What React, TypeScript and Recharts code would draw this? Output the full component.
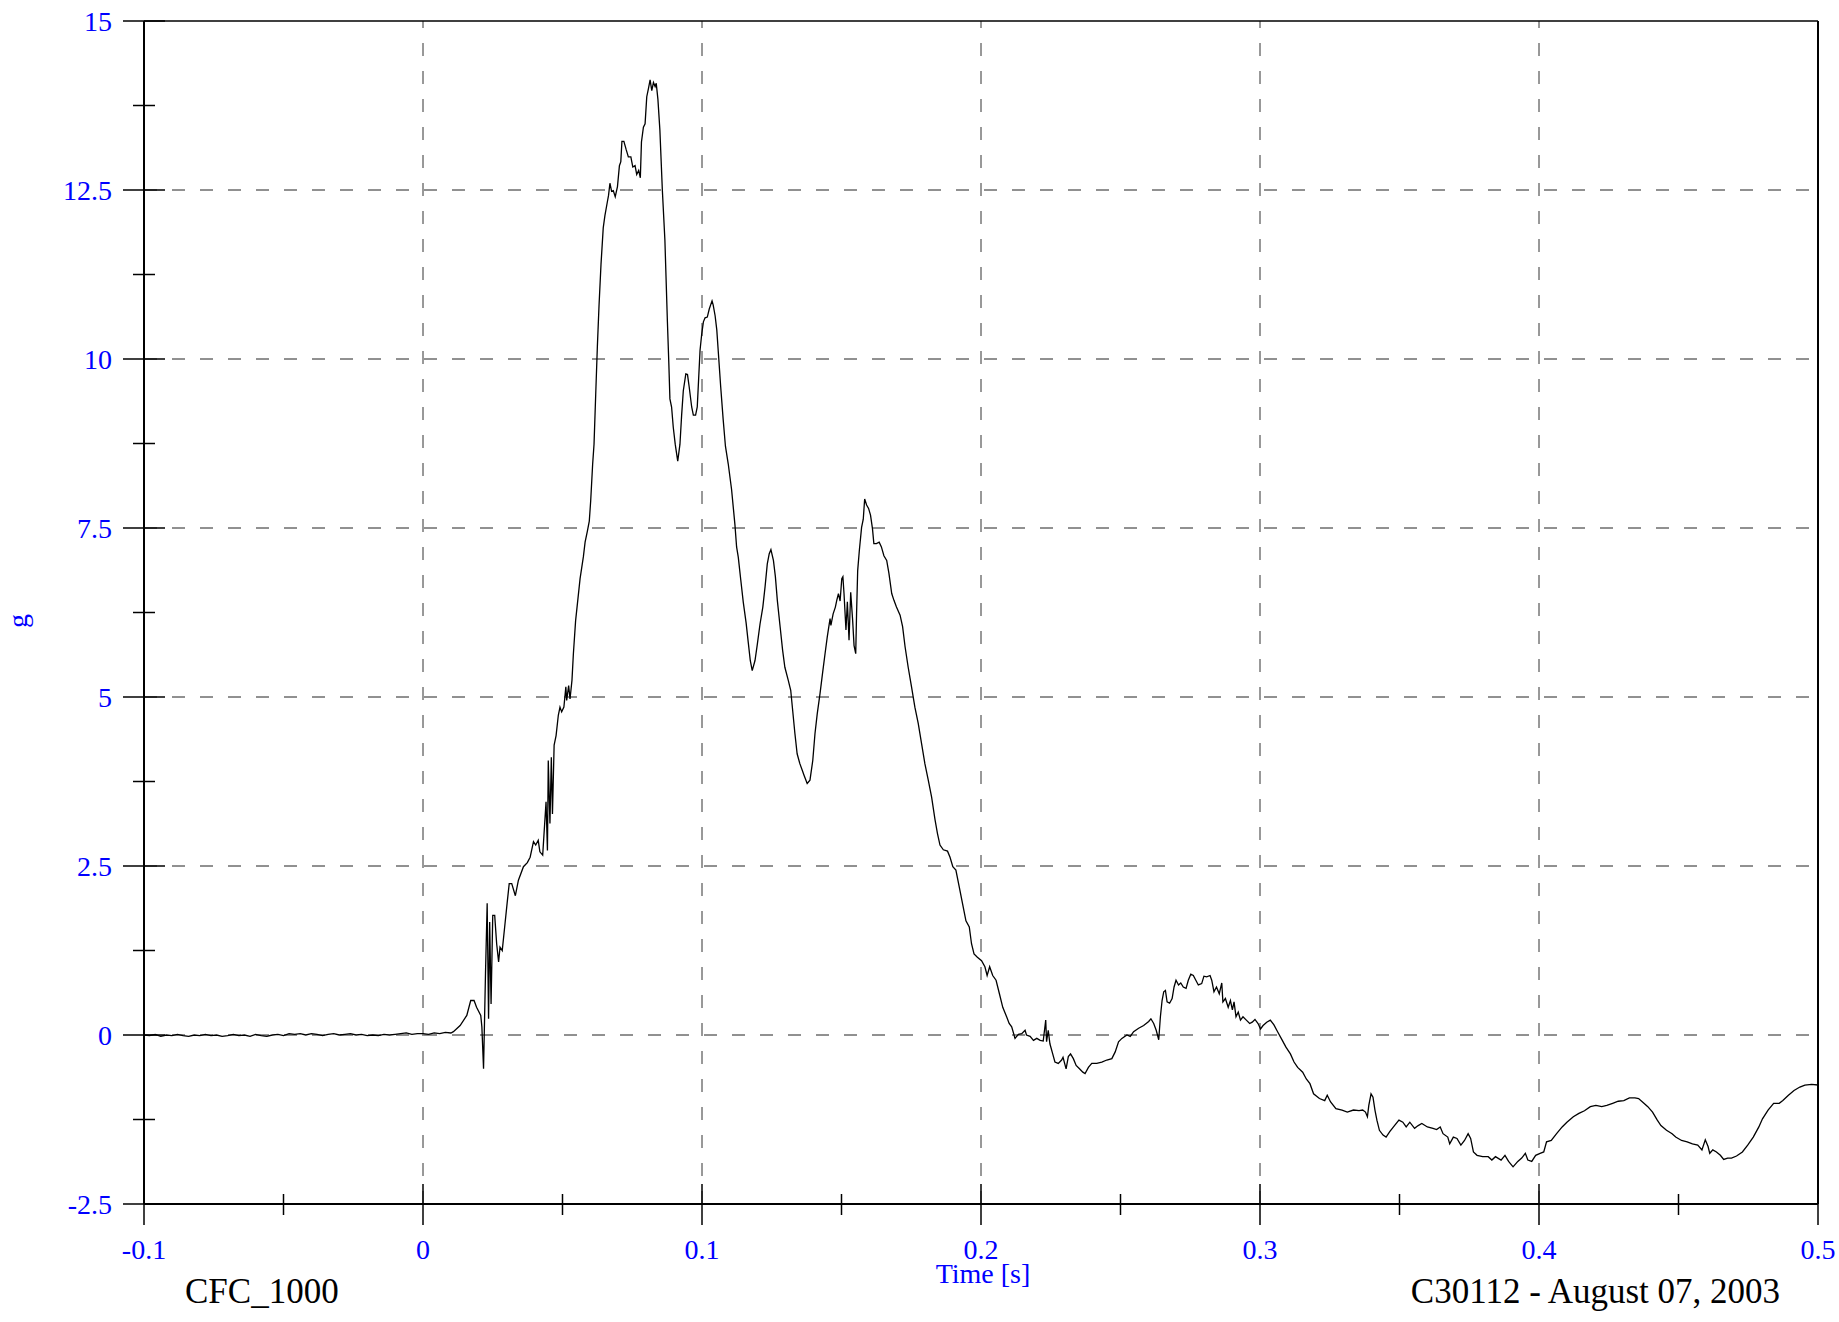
import { Line, LineChart, ReferenceLine, XAxis, YAxis } from 'recharts';

type Pt = [number, number];

// time [s], acceleration [g]
const quietPhase: Pt[] = [
  [-0.1, 0.0], [-0.098, -0.01], [-0.096, 0.01], [-0.094, -0.02], [-0.092, 0.0], [-0.09, -0.01],
  [-0.088, 0.01], [-0.086, -0.01], [-0.084, -0.02], [-0.082, 0.0], [-0.08, -0.01], [-0.078, 0.01],
  [-0.076, -0.01], [-0.074, 0.0], [-0.072, -0.02], [-0.07, -0.01], [-0.068, 0.01], [-0.066, -0.01],
  [-0.064, 0.0], [-0.062, -0.02], [-0.06, 0.01], [-0.058, -0.01], [-0.056, -0.02], [-0.054, 0.0],
  [-0.052, 0.01], [-0.05, -0.01], [-0.048, 0.02], [-0.046, 0.01], [-0.044, 0.02], [-0.042, 0.0],
  [-0.04, 0.02], [-0.038, 0.01], [-0.036, -0.01], [-0.034, 0.01], [-0.032, 0.02], [-0.03, 0.0],
  [-0.028, 0.01], [-0.026, 0.02], [-0.024, 0.0], [-0.022, 0.01], [-0.02, -0.01], [-0.018, 0.0],
  [-0.016, -0.01], [-0.014, 0.01], [-0.012, 0.0], [-0.01, 0.01], [-0.008, 0.02], [-0.006, 0.03],
  [-0.004, 0.01], [-0.002, 0.02], [0.0, 0.02], [0.002, 0.01], [0.004, 0.03], [0.006, 0.02],
  [0.008, 0.04], [0.01, 0.03], [0.0109, 0.05],
];

const impactRise: Pt[] = [
  [0.0133, 0.14], [0.0157, 0.29], [0.0171, 0.51], [0.0183, 0.51], [0.0192, 0.41], [0.0207, 0.29],
  [0.0211, 0.12], [0.0217, -0.5], [0.0224, 0.91], [0.023, 1.95], [0.0235, 0.24], [0.0239, 1.67],
  [0.0244, 0.46], [0.025, 1.77], [0.0257, 1.77], [0.0264, 1.35], [0.0271, 1.08], [0.0276, 1.3],
  [0.0284, 1.25], [0.0294, 1.65], [0.0302, 1.97], [0.0309, 2.24], [0.0318, 2.24], [0.0331, 2.06],
  [0.0342, 2.29], [0.036, 2.49], [0.0374, 2.55], [0.0384, 2.63], [0.0396, 2.86], [0.0404, 2.81],
  [0.0413, 2.88], [0.0419, 2.71], [0.0429, 2.66], [0.0441, 3.45], [0.0446, 2.73], [0.0449, 4.06],
  [0.0455, 3.13], [0.046, 4.11], [0.0464, 3.27], [0.047, 4.29], [0.0477, 4.43], [0.0485, 4.73],
  [0.0491, 4.85], [0.0497, 4.78], [0.0505, 4.85], [0.0512, 5.15], [0.0515, 4.95], [0.0522, 5.17],
  [0.0527, 4.97], [0.0534, 5.25], [0.0539, 5.64], [0.0547, 6.13],
];

const mainPeak: Pt[] = [
  [0.0563, 6.75], [0.0575, 7.08], [0.0581, 7.29], [0.0589, 7.45], [0.0596, 7.6], [0.0601, 7.9],
  [0.0608, 8.44], [0.0613, 8.74], [0.0619, 9.47], [0.0625, 10.19], [0.0631, 10.8], [0.0638, 11.4],
  [0.0646, 11.94], [0.0652, 12.12], [0.0661, 12.33], [0.0665, 12.42], [0.067, 12.6], [0.0676, 12.48],
  [0.0682, 12.49], [0.0689, 12.4], [0.0697, 12.55], [0.0704, 12.86], [0.0709, 12.92], [0.0713, 13.22],
  [0.072, 13.22], [0.0728, 13.1], [0.0736, 12.99], [0.0745, 12.99], [0.0752, 12.84], [0.076, 12.86],
  [0.0766, 12.73], [0.0773, 12.79], [0.0779, 12.68], [0.0783, 13.21], [0.079, 13.43], [0.0796, 13.48],
  [0.0802, 13.88], [0.0808, 14.0], [0.0814, 14.13], [0.082, 13.97], [0.0826, 14.09], [0.0832, 14.03],
  [0.0836, 14.08], [0.0842, 13.84], [0.0849, 13.39], [0.0858, 12.49], [0.0867, 11.76], [0.0876, 10.55],
  [0.0881, 9.95], [0.0885, 9.41], [0.0891, 9.29], [0.0897, 8.99], [0.0904, 8.74], [0.0913, 8.49],
  [0.0921, 8.74], [0.0927, 9.17], [0.0933, 9.53], [0.0942, 9.78], [0.0948, 9.77], [0.0954, 9.59],
  [0.0963, 9.29], [0.0969, 9.17], [0.0977, 9.17], [0.0983, 9.29], [0.0988, 9.71], [0.0993, 10.13],
  [0.0999, 10.37], [0.1005, 10.55], [0.1011, 10.61], [0.1019, 10.62], [0.1026, 10.74], [0.1036, 10.86],
  [0.104, 10.8], [0.1047, 10.64], [0.1053, 10.43], [0.1059, 10.07], [0.1067, 9.59], [0.1076, 9.1],
  [0.1084, 8.71], [0.1094, 8.45], [0.1106, 8.07], [0.1118, 7.55], [0.1124, 7.22], [0.113, 7.07],
  [0.1139, 6.73], [0.1148, 6.4], [0.1158, 6.1], [0.1166, 5.8], [0.1173, 5.54], [0.118, 5.39],
  [0.119, 5.54], [0.1198, 5.77], [0.1208, 6.08],
];

const secondaryPeaks: Pt[] = [
  [0.1218, 6.33], [0.1226, 6.63], [0.1234, 6.97], [0.1241, 7.12], [0.1247, 7.18], [0.1256, 7.02],
  [0.1263, 6.78], [0.127, 6.43], [0.128, 6.04], [0.1289, 5.69], [0.1297, 5.44], [0.1309, 5.25],
  [0.1318, 5.1], [0.1325, 4.8], [0.1333, 4.46], [0.1341, 4.16], [0.1351, 4.01], [0.1359, 3.92],
  [0.1366, 3.84], [0.1377, 3.72], [0.1387, 3.77], [0.1397, 4.06], [0.1405, 4.46], [0.1413, 4.75],
  [0.1423, 5.05], [0.1432, 5.35], [0.1441, 5.64], [0.1449, 5.89], [0.1459, 6.16], [0.1462, 6.06],
  [0.147, 6.23], [0.1478, 6.33], [0.1483, 6.43], [0.1489, 6.53], [0.1495, 6.42], [0.1501, 6.75],
  [0.1505, 6.78], [0.1509, 6.53], [0.1516, 5.99], [0.1521, 6.41], [0.1527, 5.84], [0.1533, 6.55],
  [0.154, 6.13], [0.1545, 5.76], [0.1551, 5.64], [0.1554, 6.23], [0.1558, 6.87], [0.1564, 7.17],
  [0.1572, 7.51], [0.1578, 7.63], [0.1583, 7.93], [0.159, 7.84], [0.1597, 7.79], [0.1604, 7.69],
  [0.1611, 7.49], [0.1616, 7.27], [0.1625, 7.27], [0.1635, 7.29], [0.1643, 7.22], [0.1652, 7.09],
  [0.1662, 7.02], [0.167, 6.83], [0.168, 6.53], [0.1688, 6.43], [0.1697, 6.33], [0.171, 6.21],
  [0.1719, 6.04], [0.1728, 5.74], [0.1739, 5.44], [0.1751, 5.15], [0.1763, 4.85], [0.1775, 4.61],
  [0.1787, 4.31], [0.1799, 4.01], [0.1811, 3.77], [0.1823, 3.52], [0.1835, 3.19],
];

const rebound: Pt[] = [
  [0.1844, 2.98], [0.1853, 2.81], [0.1865, 2.74], [0.188, 2.72], [0.1889, 2.63], [0.1899, 2.49],
  [0.191, 2.44], [0.1922, 2.19], [0.1934, 1.94], [0.1946, 1.69], [0.1958, 1.6], [0.1966, 1.35],
  [0.1975, 1.2], [0.1987, 1.15], [0.2002, 1.1], [0.2014, 1.01], [0.2022, 0.88], [0.2031, 1.01],
  [0.2042, 0.88], [0.2054, 0.81], [0.2066, 0.61], [0.2078, 0.41], [0.209, 0.29], [0.2101, 0.17],
  [0.211, 0.12], [0.2122, -0.05], [0.2134, 0.01], [0.2146, 0.02], [0.2158, 0.07], [0.2163, 0.0],
  [0.2176, -0.02], [0.2188, -0.08], [0.22, -0.05], [0.2212, -0.08], [0.2223, -0.09], [0.2232, 0.22],
  [0.2235, -0.1], [0.2241, 0.07], [0.2247, -0.13], [0.2257, -0.28], [0.2265, -0.4], [0.2277, -0.42],
  [0.2289, -0.37], [0.2294, -0.33], [0.2305, -0.5], [0.2313, -0.32], [0.2321, -0.28], [0.2331, -0.35],
  [0.2341, -0.45], [0.2353, -0.5], [0.2365, -0.55], [0.2373, -0.57], [0.2385, -0.48], [0.2397, -0.42],
  [0.2415, -0.42], [0.2433, -0.4], [0.2451, -0.37], [0.2469, -0.35], [0.2481, -0.25], [0.2493, -0.1],
  [0.2505, -0.05], [0.2523, 0.0], [0.2535, -0.02], [0.2547, 0.05], [0.2565, 0.1], [0.2583, 0.14],
  [0.2601, 0.2], [0.2609, 0.24], [0.2619, 0.17], [0.2628, 0.07], [0.2637, -0.07], [0.2643, 0.27],
  [0.2649, 0.51], [0.2655, 0.64], [0.2661, 0.66], [0.2667, 0.49], [0.2676, 0.47], [0.2685, 0.54],
  [0.2692, 0.71], [0.2699, 0.81], [0.2708, 0.74], [0.2716, 0.77], [0.2725, 0.71], [0.2735, 0.69],
  [0.2743, 0.81], [0.2752, 0.9], [0.2761, 0.88], [0.277, 0.81], [0.2779, 0.74], [0.2791, 0.76],
  [0.2799, 0.87], [0.2809, 0.86], [0.2821, 0.88], [0.2827, 0.81], [0.2835, 0.64], [0.2844, 0.71],
  [0.2854, 0.61], [0.2863, 0.77], [0.2867, 0.49], [0.2876, 0.54], [0.2886, 0.41], [0.2894, 0.51],
  [0.2901, 0.37], [0.2907, 0.49], [0.2914, 0.27], [0.2922, 0.34], [0.293, 0.22], [0.2939, 0.27],
  [0.2951, 0.22], [0.2963, 0.17], [0.2972, 0.19], [0.2982, 0.23], [0.2993, 0.17], [0.3002, 0.09],
  [0.3011, 0.14], [0.3024, 0.19], [0.3037, 0.22], [0.305, 0.15], [0.3064, 0.04],
];

const tail: Pt[] = [
  [0.308, -0.08], [0.3093, -0.18], [0.3109, -0.28], [0.3122, -0.4], [0.3135, -0.48], [0.3153, -0.55],
  [0.3166, -0.65], [0.3179, -0.72], [0.3192, -0.87], [0.3213, -0.94], [0.3232, -0.97], [0.3241, -0.89],
  [0.3253, -0.99], [0.3272, -1.09], [0.3294, -1.11], [0.3313, -1.14], [0.3335, -1.11], [0.3355, -1.12],
  [0.3368, -1.11], [0.3378, -1.14], [0.3385, -1.21], [0.339, -1.04], [0.3398, -0.87], [0.3405, -0.92],
  [0.3412, -1.11], [0.3419, -1.26], [0.3428, -1.41], [0.3441, -1.48], [0.3452, -1.51], [0.3465, -1.43],
  [0.3482, -1.34], [0.3498, -1.26], [0.3512, -1.29], [0.3524, -1.36], [0.3537, -1.29], [0.3554, -1.38],
  [0.3567, -1.34], [0.358, -1.31], [0.36, -1.36], [0.362, -1.38], [0.3633, -1.4], [0.3646, -1.36],
  [0.3656, -1.46], [0.3673, -1.51], [0.368, -1.61], [0.3693, -1.51], [0.3706, -1.53], [0.372, -1.63],
  [0.3733, -1.56], [0.3746, -1.46], [0.3755, -1.53], [0.3765, -1.73], [0.3778, -1.78], [0.3798, -1.8],
  [0.3818, -1.8], [0.3831, -1.85], [0.3844, -1.8], [0.3864, -1.85], [0.3878, -1.78], [0.3891, -1.87],
  [0.3907, -1.95], [0.3924, -1.87], [0.3938, -1.82], [0.3951, -1.75], [0.396, -1.85], [0.3974, -1.87],
  [0.3988, -1.78], [0.4004, -1.75], [0.4017, -1.73], [0.4027, -1.58], [0.4044, -1.56], [0.4063, -1.46],
  [0.4083, -1.36], [0.41, -1.29], [0.4123, -1.21], [0.4143, -1.16], [0.4163, -1.12], [0.4184, -1.06],
  [0.4204, -1.04], [0.4225, -1.06], [0.4243, -1.04], [0.4264, -1.01], [0.4284, -0.98], [0.4304, -0.97],
  [0.4324, -0.93], [0.4344, -0.93], [0.4357, -0.94], [0.4371, -0.99], [0.439, -1.06], [0.4407, -1.14],
  [0.4424, -1.26], [0.4437, -1.34], [0.4457, -1.41], [0.4477, -1.46], [0.449, -1.51], [0.4511, -1.56],
  [0.4531, -1.58], [0.455, -1.61], [0.4569, -1.63], [0.4584, -1.7], [0.4596, -1.55], [0.4606, -1.65],
  [0.4612, -1.75], [0.4623, -1.7], [0.4636, -1.73], [0.465, -1.78], [0.4662, -1.84], [0.4676, -1.82],
  [0.469, -1.82], [0.4708, -1.79], [0.4729, -1.73], [0.4748, -1.63], [0.4768, -1.51], [0.4788, -1.36],
  [0.4801, -1.24], [0.4821, -1.11], [0.4841, -1.01], [0.4861, -1.01], [0.4874, -0.97], [0.4894, -0.89],
  [0.4914, -0.82], [0.4935, -0.77], [0.4953, -0.74], [0.4977, -0.73], [0.5, -0.74],
];

// ticks: every other one is a labelled major tick
const timeTicks = [-0.1, -0.05, 0, 0.05, 0.1, 0.15, 0.2, 0.25, 0.3, 0.35, 0.4, 0.45, 0.5];
const timeLabels = ['-0.1', '0', '0.1', '0.2', '0.3', '0.4', '0.5'];
const gTicks = [-2.5, -1.25, 0, 1.25, 2.5, 3.75, 5, 6.25, 7.5, 8.75, 10, 11.25, 12.5, 13.75, 15];
const gLabels = ['-2.5', '0', '2.5', '5', '7.5', '10', '12.5', '15'];
const timeGrid = [0, 0.1, 0.2, 0.3, 0.4];
const gGrid = [0, 2.5, 5, 7.5, 10, 12.5];

const trace = [...quietPhase, ...impactRise, ...mainPeak, ...secondaryPeaks, ...rebound, ...tail].map(
  ([t, g]) => ({ t, g }),
);

const BLUE = '#0000ff';
const SERIF = "'Liberation Serif', 'Times New Roman', serif";

function TimeTick(props: any) {
  const { x, y, index } = props;
  const major = index % 2 === 0;
  return (
    <g>
      <line x1={x} x2={x} y1={y - (major ? 20 : 10)} y2={y + (major ? 21 : 11)} stroke="#000" strokeWidth={1.5} />
      {major && (
        <text x={x} y={y + 55} textAnchor="middle" fill={BLUE} fontSize={28} fontFamily={SERIF}>
          {timeLabels[index / 2]}
        </text>
      )}
    </g>
  );
}

function GTick(props: any) {
  const { x, y, index } = props;
  const major = index % 2 === 0;
  return (
    <g>
      <line x1={x - (major ? 21 : 11)} x2={x + (major ? 21 : 11)} y1={y} y2={y} stroke="#000" strokeWidth={1.5} />
      {major && (
        <text x={x - 32} y={y + 10} textAnchor="end" fill={BLUE} fontSize={28} fontFamily={SERIF}>
          {gLabels[index / 2]}
        </text>
      )}
    </g>
  );
}

export default function App() {
  return (
    <div style={{ position: 'absolute', left: 0, top: 0, width: 1839, height: 1322, background: '#fff' }}>
      <LineChart width={1839} height={1322} data={trace} margin={{ top: 21, right: 21, bottom: 58, left: 0 }}>
        {timeGrid.map((t) => (
          <ReferenceLine key={`vx${t}`} x={t} stroke="#333" strokeWidth={1} strokeDasharray="13 15" />
        ))}
        {gGrid.map((g) => (
          <ReferenceLine key={`hy${g}`} y={g} stroke="#222" strokeWidth={1} strokeDasharray="13 15" />
        ))}
        <ReferenceLine y={15} stroke="#000" strokeWidth={1.5} />
        <ReferenceLine x={0.5} stroke="#000" strokeWidth={2} />
        <XAxis
          type="number"
          dataKey="t"
          domain={[-0.1, 0.5]}
          ticks={timeTicks}
          interval={0}
          height={60}
          tickSize={0}
          tickMargin={0}
          tickLine={false}
          tick={<TimeTick />}
          axisLine={{ stroke: '#000', strokeWidth: 2 }}
          allowDataOverflow
        />
        <YAxis
          type="number"
          domain={[-2.5, 15]}
          ticks={gTicks}
          interval={0}
          width={144}
          tickSize={0}
          tickMargin={0}
          tickLine={false}
          tick={<GTick />}
          axisLine={{ stroke: '#000', strokeWidth: 2 }}
          allowDataOverflow
        />
        <Line
          type="linear"
          dataKey="g"
          stroke="#000"
          strokeWidth={1.3}
          dot={false}
          activeDot={false}
          isAnimationActive={false}
        />
      </LineChart>
      <svg
        width={1839}
        height={1322}
        style={{ position: 'absolute', left: 0, top: 0, pointerEvents: 'none' }}
      >
        <text x={27} y={621} transform="rotate(-90 27 621)" textAnchor="middle" fill={BLUE} fontSize={28} fontFamily={SERIF}>
          g
        </text>
        <text x={983} y={1283} textAnchor="middle" fill={BLUE} fontSize={28} fontFamily={SERIF}>
          Time [s]
        </text>
        <text x={185} y={1303} fill="#000" fontSize={35} fontFamily={SERIF}>
          CFC_1000
        </text>
        <text x={1780} y={1303} textAnchor="end" fill="#000" fontSize={35} fontFamily={SERIF}>
          C30112 - August 07, 2003
        </text>
      </svg>
    </div>
  );
}
